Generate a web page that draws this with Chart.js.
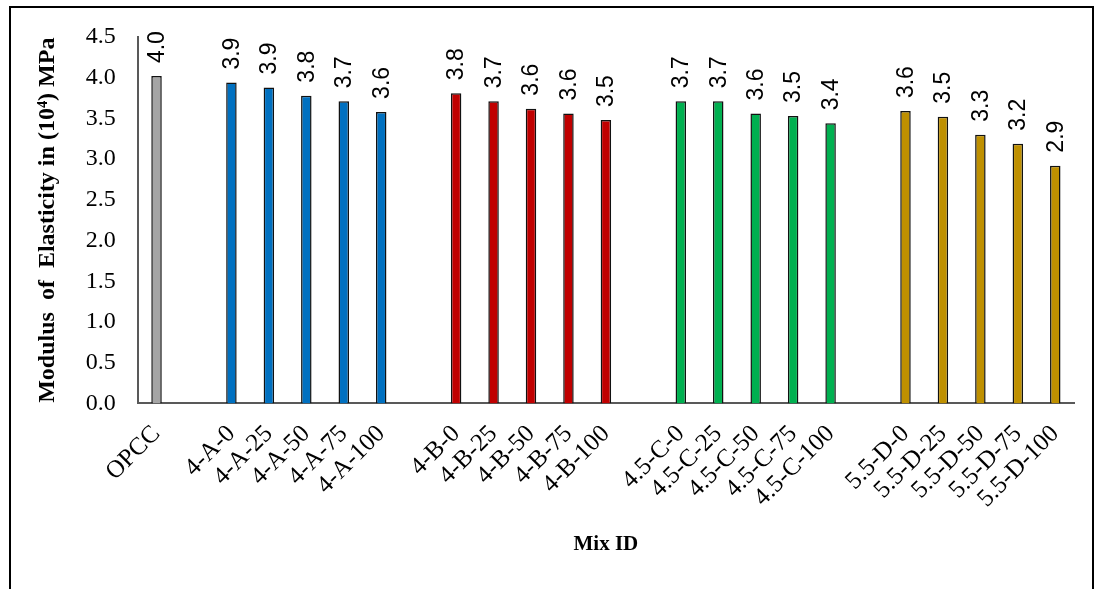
<!DOCTYPE html>
<html>
<head>
<meta charset="utf-8">
<script src="https://cdn.jsdelivr.net/npm/chart.js@4"></script>
<style>
  html, body { margin: 0; padding: 0; background: #fff; }
  #wrap { position: relative; width: 1096px; height: 589px; }
  #frame { position: absolute; left: 9px; top: 6px; width: 1085px; height: 600px;
           border-left: 2px solid #000; border-top: 2px solid #000; border-right: 2px solid #000; box-sizing: border-box; }
  canvas { position: absolute; left: 0; top: 0; }
</style>
</head>
<body>
<div id="wrap">
  <div id="frame"></div>
  <canvas id="c" width="1096" height="589"></canvas>
</div>
<script>
// categories (blank entries are the gaps between groups)
const mixIds = ['OPCC', '',
    '4-A-0', '4-A-25', '4-A-50', '4-A-75', '4-A-100', '',
    '4-B-0', '4-B-25', '4-B-50', '4-B-75', '4-B-100', '',
    '4.5-C-0', '4.5-C-25', '4.5-C-50', '4.5-C-75', '4.5-C-100', '',
    '5.5-D-0', '5.5-D-25', '5.5-D-50', '5.5-D-75', '5.5-D-100'];
// modulus of elasticity, 10^4 MPa
const modulus = [4.02, null,
    3.94, 3.88, 3.78, 3.71, 3.58, null,
    3.81, 3.71, 3.62, 3.56, 3.48, null,
    3.71, 3.71, 3.56, 3.53, 3.44, null,
    3.59, 3.52, 3.30, 3.19, 2.92];
const groupColors = {O: '#A5A5A5', A: '#0070C0', B: '#C00000', C: '#00B050', D: '#BF9000'};

function barColor(label) {
    if (label === 'OPCC') return groupColors.O;
    const m = label.match(/-([ABCD])-/);
    return m ? groupColors[m[1]] : '#000';
}

// draws the rotated value above each bar
const valueLabels = {
    id: 'valueLabels',
    afterDatasetsDraw(chart) {
        const ctx = chart.ctx;
        const meta = chart.getDatasetMeta(0);
        ctx.save();
        ctx.font = '23px "Liberation Sans", Arial, sans-serif';
        ctx.fillStyle = '#000';
        ctx.textAlign = 'left';
        ctx.textBaseline = 'middle';
        meta.data.forEach((bar, i) => {
            const v = modulus[i];
            if (v == null) return;
            ctx.save();
            ctx.translate(bar.x + 1, bar.y - 13);
            ctx.rotate(-Math.PI / 2);
            ctx.fillText(v.toFixed(1), 0, 0);
            ctx.restore();
        });
        ctx.restore();
    }
};

const serif = '"Liberation Serif", "Times New Roman", serif';
const ctx = document.getElementById('c').getContext('2d');
const myChart = new Chart(ctx, {
    type: 'bar',
    data: {
        labels: mixIds,
        datasets: [{
            data: modulus,
            backgroundColor: mixIds.map(barColor),
            borderColor: '#111',
            borderWidth: 1.5,
            categoryPercentage: 1,
            barPercentage: 0.28
        }]
    },
    options: {
        responsive: false,
        animation: false,
        layout: { padding: { left: 29, right: 22, top: 37, bottom: 28 } },
        plugins: {
            legend: { display: false },
            tooltip: { enabled: false }
        },
        scales: {
            x: {
                grid: { display: false, drawTicks: false },
                border: { color: '#595959', width: 2 },
                ticks: {
                    color: '#000',
                    font: { family: serif, size: 25 },
                    minRotation: 45, maxRotation: 45,
                    autoSkip: false,
                    padding: 16
                },
                title: {
                    display: true,
                    text: 'Mix ID',
                    color: '#000',
                    font: { family: serif, size: 21, weight: 'bold' },
                    padding: { top: 2 }
                }
            },
            y: {
                min: 0, max: 4.5,
                grid: { display: false, drawTicks: false },
                border: { color: '#595959', width: 2 },
                ticks: {
                    stepSize: 0.5,
                    color: '#000',
                    font: { family: serif, size: 24 },
                    padding: 22,
                    callback: v => v.toFixed(1)
                },
                title: {
                    display: true,
                    text: 'Modulus  of  Elasticity in (10⁴) MPa',
                    color: '#000',
                    font: { family: serif, size: 24, weight: 'bold' },
                    padding: { bottom: 2 }
                }
            }
        }
    },
    plugins: [valueLabels]
});
</script>
</body>
</html>
